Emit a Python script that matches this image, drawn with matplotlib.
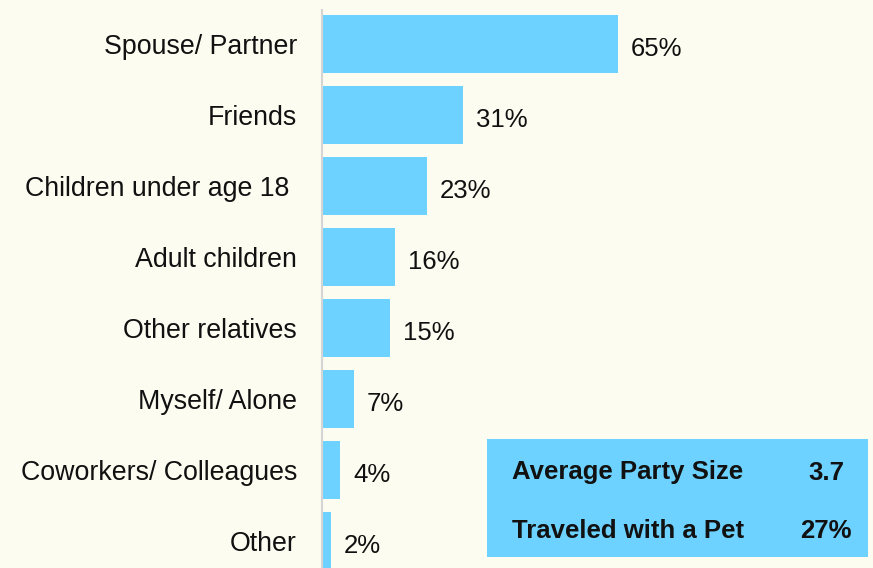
import matplotlib
matplotlib.use("Agg")
import matplotlib.pyplot as plt
from matplotlib.patches import Rectangle

categories = ["Spouse/ Partner", "Friends", "Children under age 18 ", "Adult children",
              "Other relatives", "Myself/ Alone", "Coworkers/ Colleagues", "Other"]
shares = [65, 31, 23, 16, 15, 7, 4, 2]

summary_labels = ["Average Party Size", "Traveled with a Pet"]
summary_values = ["3.7", "27%"]

BG = "#fcfdf0"
BLUE = "#6dd2ff"

plt.rcParams["font.family"] = ["Liberation Sans", "DejaVu Sans"]

fig = plt.figure(figsize=(8.73, 5.68), dpi=100, facecolor=BG)
W, H = 873, 568
# axes spans from the baseline at x=322 to the right edge, full height
ax = fig.add_axes([322 / W, 0, 1 - 322 / W, 1], facecolor=BG)

pos = list(range(len(categories)))
ax.barh(pos, shares, height=0.82, color=BLUE)
ax.set_xlim(0, 121)
ax.set_ylim(524 / 71, -44 / 71)

for y, v in zip(pos, shares):
    ax.text(v + 2.8, y + 0.03, f"{v}%", va="center_baseline", ha="left",
            fontsize=18.5, color="#111111")

ax.set_yticks(pos)
ax.set_yticklabels(categories, fontsize=19.3, color="#111111")
for lbl in ax.get_yticklabels():
    lbl.set_verticalalignment("center_baseline")
ax.tick_params(axis="y", length=0, pad=18)
ax.set_xticks([])
for s in ["top", "right", "bottom"]:
    ax.spines[s].set_visible(False)
ax.spines["left"].set_color("#d4d4d4")
ax.spines["left"].set_linewidth(1.5)
ax.spines["left"].set_bounds(-0.48, 524 / 71)

# summary box
bx0, by0, bx1, by1 = 487, 439, 868, 557
fig.patches.append(Rectangle((bx0 / W, 1 - by1 / H), (bx1 - bx0) / W, (by1 - by0) / H,
                             transform=fig.transFigure, facecolor=BLUE, edgecolor="none"))
for i, (lab, val) in enumerate(zip(summary_labels, summary_values)):
    yc = 1 - (470 + 59 * i) / H
    fig.text(628 / W, yc, lab, ha="center", va="center_baseline", fontsize=18.5,
             fontweight="bold", color="#111111")
    fig.text(826 / W, yc, val, ha="center", va="center_baseline", fontsize=18.5,
             fontweight="bold", color="#111111")

fig.savefig("out.png", dpi=100, facecolor=BG)
